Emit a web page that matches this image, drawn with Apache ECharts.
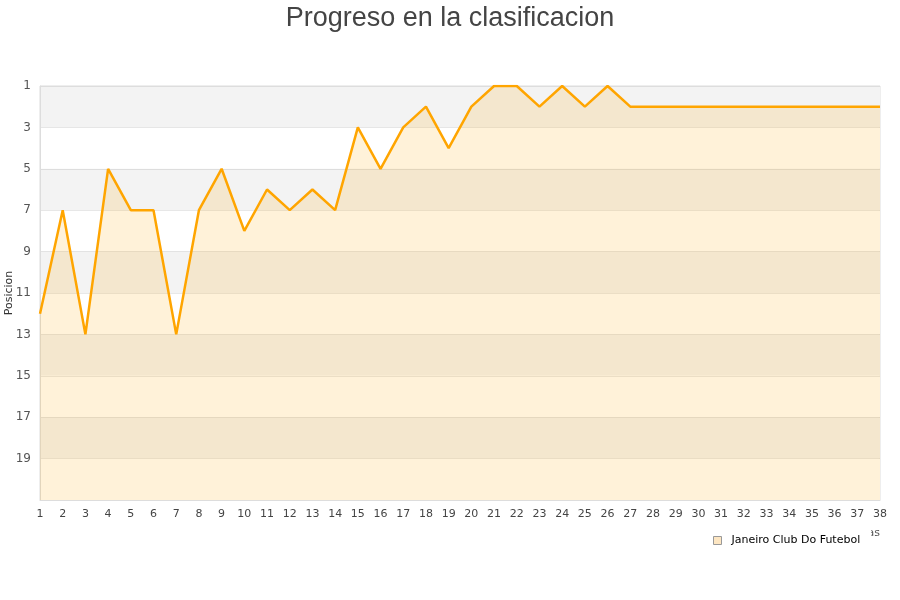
<!DOCTYPE html>
<html><head><meta charset="utf-8">
<script src="https://cdn.jsdelivr.net/npm/echarts@6/dist/echarts.min.js"></script>
<style>html,body{margin:0;padding:0;background:#fff}#c{width:900px;height:600px}</style>
</head><body><div id="c"></div>
<script>
const categories = ['1','2','3','4','5','6','7','8','9','10','11','12','13','14','15','16','17','18','19','20','21','22','23','24','25','26','27','28','29','30','31','32','33','34','35','36','37','38'];
const positions = [12,7,13,5,7,7,13,7,5,8,6,7,6,7,3,5,3,2,4,2,1,1,2,1,2,1,2,2,2,2,2,2,2,2,2,2,2,2];
const seriesName = 'Janeiro Club Do Futebol';
const titleText = 'Progreso en la clasificacion';

const chart = echarts.init(document.getElementById('c'));
chart.setOption({
  animation: false,
  title: {
    text: titleText, left: 'center', top: 0,
    textStyle: {fontFamily: 'Liberation Sans Narrow, Liberation Sans', fontWeight: 'normal', fontSize: 27, color: '#444'}
  },
  legend: {
    data: [{name: seriesName, icon: 'rect', itemStyle: {color: '#fde6c2', borderColor: '#999', borderWidth: 1}}],
    left: 707, top: 526,
    itemWidth: 8, itemHeight: 8, itemGap: 10,
    backgroundColor: '#fff',
    padding: [9, 11, 4, 6],
    textStyle: {fontFamily: 'DejaVu Sans', fontSize: 11, color: '#000', padding: [0, 0, 0, 5]}
  },
  grid: {left: 40, right: 20, top: 86, bottom: 100, containLabel: false, outerBoundsMode: 'none',
         show: true, borderColor: '#ddd', borderWidth: 1},
  xAxis: {
    type: 'category', data: categories, boundaryGap: false,
    name: 'Jornadas', nameLocation: 'end', nameGap: 0, nameMoveOverlap: false,
    nameTextStyle: {fontFamily: 'DejaVu Sans', fontSize: 11, color: '#555', align: 'right', verticalAlign: 'top', padding: [28, 0, 0, 0]},
    axisLine: {show: true, lineStyle: {color: '#ddd'}},
    axisTick: {show: false},
    axisLabel: {fontFamily: 'DejaVu Sans', fontSize: 11, color: '#444', margin: 9, interval: 0},
    splitLine: {show: false}
  },
  yAxis: {
    type: 'value', inverse: true, min: 1, max: 21, interval: 2,
    name: 'Posicion', nameLocation: 'middle', nameGap: 25, nameMoveOverlap: false,
    nameTextStyle: {fontFamily: 'DejaVu Sans', fontSize: 11, color: '#333'},
    axisLine: {show: true, lineStyle: {color: '#ddd'}},
    axisTick: {show: false},
    axisLabel: {fontFamily: 'DejaVu Sans', fontSize: 12, color: '#555', margin: 9, showMaxLabel: false},
    splitLine: {show: true, lineStyle: {color: 'rgba(0,0,0,0.09)'}},
    splitArea: {show: true, areaStyle: {color: ['#f3f3f3', '#ffffff']}}
  },
  series: [{
    name: seriesName, type: 'line', data: positions,
    showSymbol: false, symbol: 'none',
    lineStyle: {color: '#ffa500', width: 2.5},
    itemStyle: {color: '#ffa500'},
    areaStyle: {color: 'rgba(255,165,0,0.21)', origin: 'end'}
  }]
});
</script></body></html>
